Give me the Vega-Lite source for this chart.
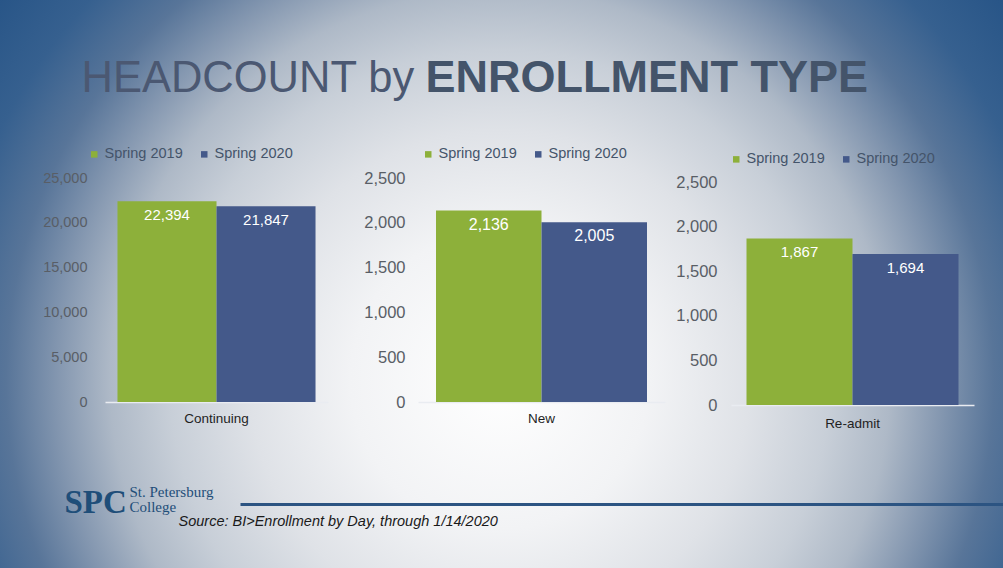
{
  "$schema": "https://vega.github.io/schema/vega-lite/v6.json",
  "autosize": {"type": "none"},
  "width": 1003,
  "height": 568,
  "padding": 0,
  "background": "#2a5585",
  "view": {
    "stroke": null,
    "fill": {
      "gradient": "radial",
      "x1": 0.4985, "y1": 0.5957, "r1": 0,
      "x2": 0.4985, "y2": 0.5957, "r2": 0.648,
      "stops": [
        {"offset": 0, "color": "#ffffff"},
        {"offset": 0.23, "color": "#f2f3f5"},
        {"offset": 0.385, "color": "#dfe2e7"},
        {"offset": 0.508, "color": "#c8cfd8"},
        {"offset": 0.6, "color": "#aeb9c7"},
        {"offset": 0.68, "color": "#8497b0"},
        {"offset": 0.76, "color": "#587599"},
        {"offset": 0.86, "color": "#36608f"},
        {"offset": 1, "color": "#245285"}
      ]
    }
  },
  "datasets": {
    "headcount": [
      {"type": "Continuing", "term": "Spring 2019", "headcount": 22394},
      {"type": "Continuing", "term": "Spring 2020", "headcount": 21847},
      {"type": "New", "term": "Spring 2019", "headcount": 2136},
      {"type": "New", "term": "Spring 2020", "headcount": 2005},
      {"type": "Re-admit", "term": "Spring 2019", "headcount": 1867},
      {"type": "Re-admit", "term": "Spring 2020", "headcount": 1694}
    ],
    "changes": [
      {"type": "Continuing", "change": "-2.4%"},
      {"type": "New", "change": "-6.1%"},
      {"type": "Re-admit", "change": "-9.2%"}
    ],
    "source": [
      {"note": "Source: BI>Enrollment by Day, through 1/14/2020"}
    ]
  },
  "config": {
    "font": "Liberation Sans",
    "axis": {"grid": false, "ticks": false, "tickSize": 0, "labelPadding": 0},
    "axisY": {"domain": false, "labelFont": "Liberation Sans", "labelColor": "#595e66", "labelAlign": "right", "labelBaseline": "middle"},
    "axisX": {"labelFont": "Liberation Sans", "labelColor": "#1f1f1f", "labelFontSize": 13.5, "labelAngle": 0, "domainColor": "#e9ecf1", "domainWidth": 1.5},
    "legend": {"symbolType": "square", "symbolSize": 42, "labelFontSize": 14.5, "labelColor": "#44546a", "labelOffset": 3, "columnPadding": 14, "padding": 0, "symbolStrokeWidth": 0},
    "bar": {"stroke": null}
  },
  "layer": [
    {
      "encoding": {
        "x": {
          "field": "type", "type": "nominal",
          "scale": {"domain": ["Continuing"], "range": [105, 328], "paddingInner": 0, "paddingOuter": 0.063},
          "axis": {
            "orient": "bottom", "offset": -166, "labelPadding": 9,
            "title": "SPC", "titleX": 64, "titleY": 110, "titleAlign": "left", "titleBaseline": "alphabetic", "titleAngle": 0,
            "titleFont": "Liberation Serif", "titleFontSize": 33, "titleFontWeight": "bold", "titleColor": "#1f4e79"
          }
        },
        "y": {
          "field": "headcount", "type": "quantitative",
          "scale": {"domain": [0, 25000], "range": [402, 178], "nice": false},
          "axis": {
            "orient": "left", "offset": -87, "values": [0, 5000, 10000, 15000, 20000, 25000], "format": ",d", "labelFontSize": 14.5,
            "title": "HEADCOUNT by", "titleX": -6, "titleY": 91, "titleAngle": 0, "titleAlign": "left", "titleBaseline": "alphabetic",
            "titleFont": "Liberation Sans", "titleFontSize": 43.5, "titleFontWeight": "normal", "titleColor": "#4b5872"
          }
        }
      },
      "layer": [
        {
          "data": {"name": "headcount"},
          "transform": [{"filter": "datum.type === 'Continuing'"}],
          "mark": {"type": "bar"},
          "encoding": {
            "xOffset": {"field": "term", "type": "nominal", "scale": {"paddingInner": 0, "paddingOuter": 0}},
            "color": {
              "field": "term", "type": "nominal",
              "scale": {"domain": ["Spring 2019", "Spring 2020"], "range": ["#8db03a", "#44598a"]},
              "legend": {"title": null, "orient": "none", "direction": "horizontal", "legendX": 87, "legendY": 147}
            }
          }
        },
        {
          "data": {"name": "headcount"},
          "transform": [{"filter": "datum.type === 'Continuing'"}],
          "mark": {"type": "text", "color": "#ffffff", "baseline": "middle", "dy": 14, "fontSize": 15},
          "encoding": {
            "xOffset": {"field": "term", "type": "nominal"},
            "text": {"field": "headcount", "type": "quantitative", "format": ","}
          }
        },
        {
          "data": {"name": "changes"},
          "transform": [{"filter": "datum.type === 'Continuing'"}],
          "mark": {"type": "text", "color": "#1a1a1a", "baseline": "middle", "dx": 8, "fontSize": 12, "fontWeight": "bold"},
          "encoding": {
            "y": {"datum": 24330, "type": "quantitative"},
            "text": {"field": "change", "type": "nominal"}
          }
        }
      ]
    },
    {
      "encoding": {
        "x": {
          "field": "type", "type": "nominal",
          "scale": {"domain": ["New"], "range": [418, 665], "paddingInner": 0, "paddingOuter": 0.0853},
          "axis": {
            "orient": "bottom", "offset": -166, "labelPadding": 9,
            "title": ["St. Petersburg", "College"], "titleX": 129, "titleY": 94, "titleAlign": "left", "titleBaseline": "alphabetic", "titleAngle": 0,
            "titleFont": "Liberation Serif", "titleFontSize": 15, "titleFontWeight": "normal", "titleColor": "#1f4e79", "titleLineHeight": 15
          }
        },
        "y": {
          "field": "headcount", "type": "quantitative",
          "scale": {"domain": [0, 2500], "range": [402, 178], "nice": false},
          "axis": {
            "orient": "left", "offset": -405, "values": [0, 500, 1000, 1500, 2000, 2500], "format": ",d", "labelFontSize": 16.5,
            "title": "ENROLLMENT TYPE", "titleX": 20, "titleY": 91, "titleAngle": 0, "titleAlign": "left", "titleBaseline": "alphabetic",
            "titleFont": "Liberation Sans", "titleFontSize": 45, "titleFontWeight": "bold", "titleColor": "#44546a"
          }
        }
      },
      "layer": [
        {
          "data": {"name": "headcount"},
          "transform": [{"filter": "datum.type === 'New'"}],
          "mark": {"type": "bar"},
          "encoding": {
            "xOffset": {"field": "term", "type": "nominal", "scale": {"paddingInner": 0, "paddingOuter": 0}},
            "color": {
              "field": "term", "type": "nominal",
              "scale": {"domain": ["Spring 2019", "Spring 2020"], "range": ["#8db03a", "#44598a"]},
              "legend": {"title": null, "orient": "none", "direction": "horizontal", "legendX": 421, "legendY": 147}
            }
          }
        },
        {
          "data": {"name": "headcount"},
          "transform": [{"filter": "datum.type === 'New'"}],
          "mark": {"type": "text", "color": "#ffffff", "baseline": "middle", "dy": 14, "fontSize": 16},
          "encoding": {
            "xOffset": {"field": "term", "type": "nominal"},
            "text": {"field": "headcount", "type": "quantitative", "format": ","}
          }
        },
        {
          "data": {"name": "changes"},
          "transform": [{"filter": "datum.type === 'New'"}],
          "mark": {"type": "text", "color": "#1a1a1a", "baseline": "middle", "dx": 4, "fontSize": 12, "fontWeight": "bold"},
          "encoding": {
            "y": {"datum": 2377, "type": "quantitative"},
            "text": {"field": "change", "type": "nominal"}
          }
        }
      ]
    },
    {
      "encoding": {
        "x": {
          "field": "type", "type": "nominal",
          "scale": {"domain": ["Re-admit"], "range": [731, 974], "paddingInner": 0, "paddingOuter": 0.0731},
          "axis": {"orient": "bottom", "offset": -163, "labelPadding": 11, "title": null}
        },
        "y": {
          "field": "headcount", "type": "quantitative",
          "scale": {"domain": [0, 2500], "range": [405, 182], "nice": false},
          "axis": {"orient": "left", "offset": -717, "values": [0, 500, 1000, 1500, 2000, 2500], "format": ",d", "labelFontSize": 16.5, "title": null}
        }
      },
      "layer": [
        {
          "data": {"name": "headcount"},
          "transform": [{"filter": "datum.type === 'Re-admit'"}],
          "mark": {"type": "bar"},
          "encoding": {
            "xOffset": {"field": "term", "type": "nominal", "scale": {"paddingInner": 0, "paddingOuter": 0}},
            "color": {
              "field": "term", "type": "nominal",
              "scale": {"domain": ["Spring 2019", "Spring 2020"], "range": ["#8db03a", "#44598a"]},
              "legend": {"title": null, "orient": "none", "direction": "horizontal", "legendX": 729, "legendY": 152}
            }
          }
        },
        {
          "data": {"name": "headcount"},
          "transform": [{"filter": "datum.type === 'Re-admit'"}],
          "mark": {"type": "text", "color": "#ffffff", "baseline": "middle", "dy": 14, "fontSize": 15},
          "encoding": {
            "xOffset": {"field": "term", "type": "nominal"},
            "text": {"field": "headcount", "type": "quantitative", "format": ","}
          }
        },
        {
          "data": {"name": "changes"},
          "transform": [{"filter": "datum.type === 'Re-admit'"}],
          "mark": {"type": "text", "color": "#1a1a1a", "baseline": "middle", "dx": 4, "fontSize": 12, "fontWeight": "bold"},
          "encoding": {
            "y": {"datum": 2421, "type": "quantitative"},
            "text": {"field": "change", "type": "nominal"}
          }
        }
      ]
    },
    {
      "data": {"name": "source"},
      "mark": {"type": "point", "opacity": 0},
      "encoding": {
        "x": {
          "field": "note", "type": "nominal",
          "scale": {"range": [240, 1003]},
          "axis": {
            "orient": "bottom", "offset": -64, "labels": false, "domainColor": "#2c5482", "domainWidth": 3,
            "title": "Source: BI>Enrollment by Day, through 1/14/2020", "titleX": 178, "titleY": 21, "titleAlign": "left", "titleBaseline": "alphabetic", "titleAngle": 0,
            "titleFont": "Liberation Sans", "titleFontSize": 14.5, "titleFontStyle": "italic", "titleFontWeight": "normal", "titleColor": "#1a1a1a"
          }
        }
      }
    }
  ],
  "resolve": {
    "scale": {"x": "independent", "y": "independent", "xOffset": "independent", "color": "independent"},
    "axis": {"x": "independent", "y": "independent"},
    "legend": {"color": "independent"}
  }
}
